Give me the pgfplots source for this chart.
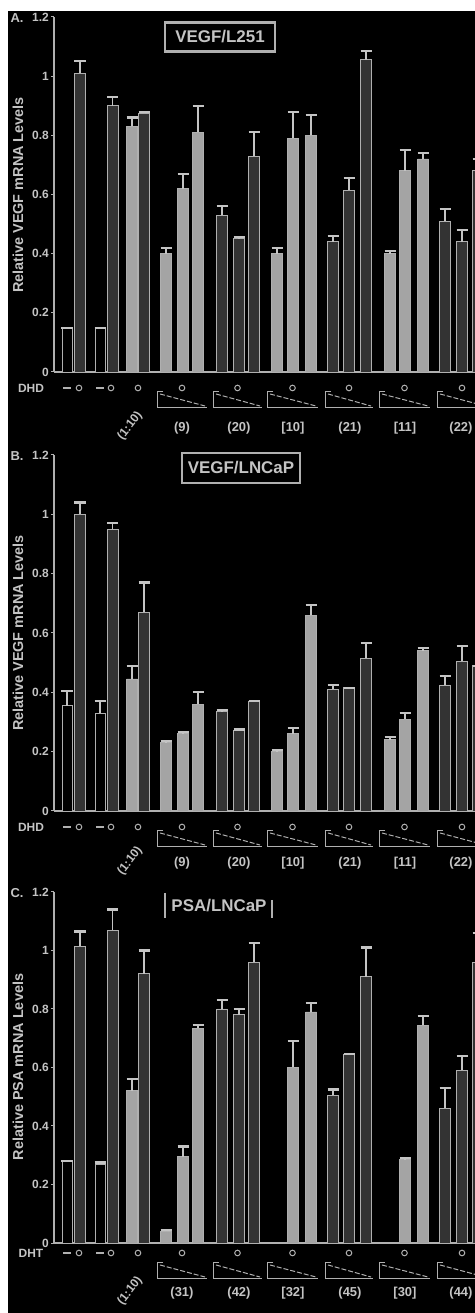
\documentclass[border=0pt]{standalone}
\usepackage{pgfplots}
\pgfplotsset{compat=1.18}
\usepackage{fontspec}
\setmainfont{Liberation Sans}
\definecolor{txt}{HTML}{C4C4C4}
\definecolor{edge}{HTML}{B0B0B0}
\definecolor{lightfill}{HTML}{A4A4A4}
\definecolor{darkfill}{HTML}{333333}
\newcommand\fs[1]{\fontsize{#1}{#1}\selectfont\bfseries}

\pgfplotsset{
  panel/.style={
    scale only axis, width=421bp, height=#1bp,
    xmin=54, xmax=475, ymin=0, ymax=1.2,
    axis lines=left, axis line style={-, draw=edge, line width=1.2pt},
    xtick=\empty, ytick={0,0.2,0.4,0.6,0.8,1,1.2},
    yticklabels={0,0.2,0.4,0.6,0.8,1,1.2},
    tick align=outside, major tick length=3bp,
    tick style={draw=edge, line width=1pt},
    yticklabel style={font=\fs{12}, text=txt, inner sep=2pt},
    anchor=south west, clip=true,
  },
  bars/.style={ybar, bar shift=0pt, line width=0.8pt, draw=edge,
    error bars/y dir=plus, error bars/y explicit,
    error bars/error bar style={draw=txt, line width=1.5pt},
    error bars/error mark options={rotate=90, mark size=5.5bp, draw=txt, line width=2.2pt}},
  lt/.style={bars, bar width=11, fill=lightfill},
  dk/.style={bars, bar width=11, fill=darkfill},
  bk/.style={bars, bar width=10, fill=black},
}

% annotations under each panel: #1 base, #2 row offset, #3 label offset, #4 row name, #5 labels
\newcommand\annot[5]{%
  \node[text=txt, font=\fs{12}] at (31,#1+#2) {#4};
  \draw[edge, line width=1.2pt] (63,#1+#2) -- (71,#1+#2);
  \draw[edge, line width=1pt] (79,#1+#2) circle (2.8);
  \draw[edge, line width=1.2pt] (96,#1+#2) -- (104,#1+#2);
  \draw[edge, line width=1pt] (111,#1+#2) circle (2.8);
  \draw[edge, line width=1pt] (138,#1+#2) circle (2.8);
  \foreach \a/\b in {157/207, 213/262, 267/318, 325/373, 379/430, 437/487}{
    \draw[edge, line width=1pt] (\a+6,#1+20) -- (\a,#1+20) -- (\a,#1+36) -- (\b,#1+36);
    \draw[edge, line width=1pt, dash pattern=on 5pt off 2pt] (\a+3,#1+22) -- (\b-2,#1+34);
    \draw[edge, line width=1pt] ({(\a+\b)/2},#1+#2) circle (2.8);
  }
  \foreach \x/\t in {#5}{
    \node[text=txt, font=\fs{13}] at (\x,#1+#3) {\t};
  }
  \node[text=txt, font=\fs{12}, rotate=52] at (130,#1+#3-2) {(1:10)};
}

\begin{document}
\begin{tikzpicture}
\useasboundingbox (0,0) rectangle (475bp,1313bp);
\fill[white] (0,0) rectangle (475bp,1313bp);
\fill[black] (8bp,0) rectangle (475bp,1302bp);

% ---------- panel A ----------
\begin{axis}[panel=355, at={(54bp,941bp)}]
\addplot[bk] coordinates {(67,0.15) +- (0,0) (100,0.15) +- (0,0)};
\addplot[dk] coordinates {(80,1.01) +- (0,0.04) (112.5,0.90) +- (0,0.03) (144,0.875) +- (0,0.005)
  (222,0.53) +- (0,0.03) (239,0.45) +- (0,0.005) (254,0.73) +- (0,0.08)
  (333,0.44) +- (0,0.02) (349,0.615) +- (0,0.04) (366,1.055) +- (0,0.03)
  (445,0.51) +- (0,0.04) (462,0.44) +- (0,0.04) (478,0.68) +- (0,0.04)};
\addplot[lt] coordinates {(132,0.83) +- (0,0.03)
  (166,0.40) +- (0,0.02) (183,0.62) +- (0,0.05) (198,0.81) +- (0,0.09)
  (277,0.40) +- (0,0.02) (293,0.79) +- (0,0.09) (311,0.80) +- (0,0.07)
  (390,0.40) +- (0,0.01) (405,0.68) +- (0,0.07) (423,0.72) +- (0,0.02)};
\end{axis}

% ---------- panel B ----------
\begin{axis}[panel=356, at={(54bp,502bp)}]
\addplot[bk] coordinates {(67,0.355) +- (0,0.05) (100,0.33) +- (0,0.04)};
\addplot[dk] coordinates {(80,1.0) +- (0,0.04) (112.5,0.95) +- (0,0.02) (144,0.67) +- (0,0.10)
  (222,0.335) +- (0,0.005) (239,0.27) +- (0,0.005) (254,0.37) +- (0,0)
  (333,0.41) +- (0,0.015) (349,0.415) +- (0,0) (366,0.515) +- (0,0.05)
  (445,0.425) +- (0,0.03) (462,0.505) +- (0,0.05) (478,0.49) +- (0,0)};
\addplot[lt] coordinates {(132,0.445) +- (0,0.045)
  (166,0.23) +- (0,0.005) (183,0.26) +- (0,0.005) (198,0.36) +- (0,0.04)
  (277,0.20) +- (0,0.005) (293,0.26) +- (0,0.02) (311,0.66) +- (0,0.035)
  (390,0.24) +- (0,0.01) (405,0.31) +- (0,0.02) (423,0.54) +- (0,0.01)};
\end{axis}

% ---------- panel C ----------
\begin{axis}[panel=351, at={(54bp,70bp)}]
\addplot[bk] coordinates {(67,0.28) +- (0,0) (100,0.27) +- (0,0.005)};
\addplot[dk] coordinates {(80,1.015) +- (0,0.05) (112.5,1.07) +- (0,0.07) (144,0.92) +- (0,0.08)
  (222,0.80) +- (0,0.03) (239,0.78) +- (0,0.02) (254,0.96) +- (0,0.065)
  (333,0.505) +- (0,0.02) (349,0.645) +- (0,0) (366,0.91) +- (0,0.10)
  (445,0.46) +- (0,0.07) (462,0.59) +- (0,0.05) (478,0.96) +- (0,0.10)};
\addplot[lt] coordinates {(132,0.52) +- (0,0.04)
  (166,0.04) +- (0,0.005) (183,0.295) +- (0,0.035) (198,0.735) +- (0,0.01)
  (293,0.60) +- (0,0.09) (311,0.79) +- (0,0.03)
  (405,0.285) +- (0,0.005) (423,0.745) +- (0,0.03)};
\end{axis}

% labels and annotations, in image pixel coordinates (y downwards)
\begin{scope}[x=1bp, y=-1bp, shift={(0,1313bp)}]
\node[text=txt, font=\fs{13}] at (17,18) {A.};
\node[text=txt, font=\fs{14.5}, rotate=90] at (18,195) {Relative VEGF mRNA Levels};
\node[draw=edge, line width=2.5pt, text=txt, font=\fs{17}, minimum width=110bp, minimum height=29bp, inner sep=1pt] at (220,37) {VEGF/L251};
\annot{372}{16}{56}{DHD}{182/(9), 239/(20), 293/{[10]}, 350/(21), 405/{[11]}, 461/(22)}

\node[text=txt, font=\fs{13}] at (17,456) {B.};
\node[text=txt, font=\fs{14.5}, rotate=90] at (18,633) {Relative VEGF mRNA Levels};
\node[draw=edge, line width=2.5pt, text=txt, font=\fs{17}, minimum width=118bp, minimum height=30bp, inner sep=1pt] at (241,468) {VEGF/LNCaP};
\annot{811}{16}{52}{DHD}{182/(9), 239/(20), 293/{[10]}, 350/(21), 405/{[11]}, 461/(22)}

\node[text=txt, font=\fs{13}] at (17,893) {C.};
\node[text=txt, font=\fs{14.5}, rotate=90] at (18,1067) {Relative PSA mRNA Levels};
\node[text=txt, font=\fs{17}] at (219,906) {PSA/LNCaP};
\draw[edge, line width=2.5pt] (165,893) -- (165,918) (272,900) -- (272,918);
\annot{1243}{10}{50}{DHT}{182/(31), 239/(42), 293/{[32]}, 350/(45), 405/{[30]}, 461/(44)}
\end{scope}
\end{tikzpicture}
\end{document}
